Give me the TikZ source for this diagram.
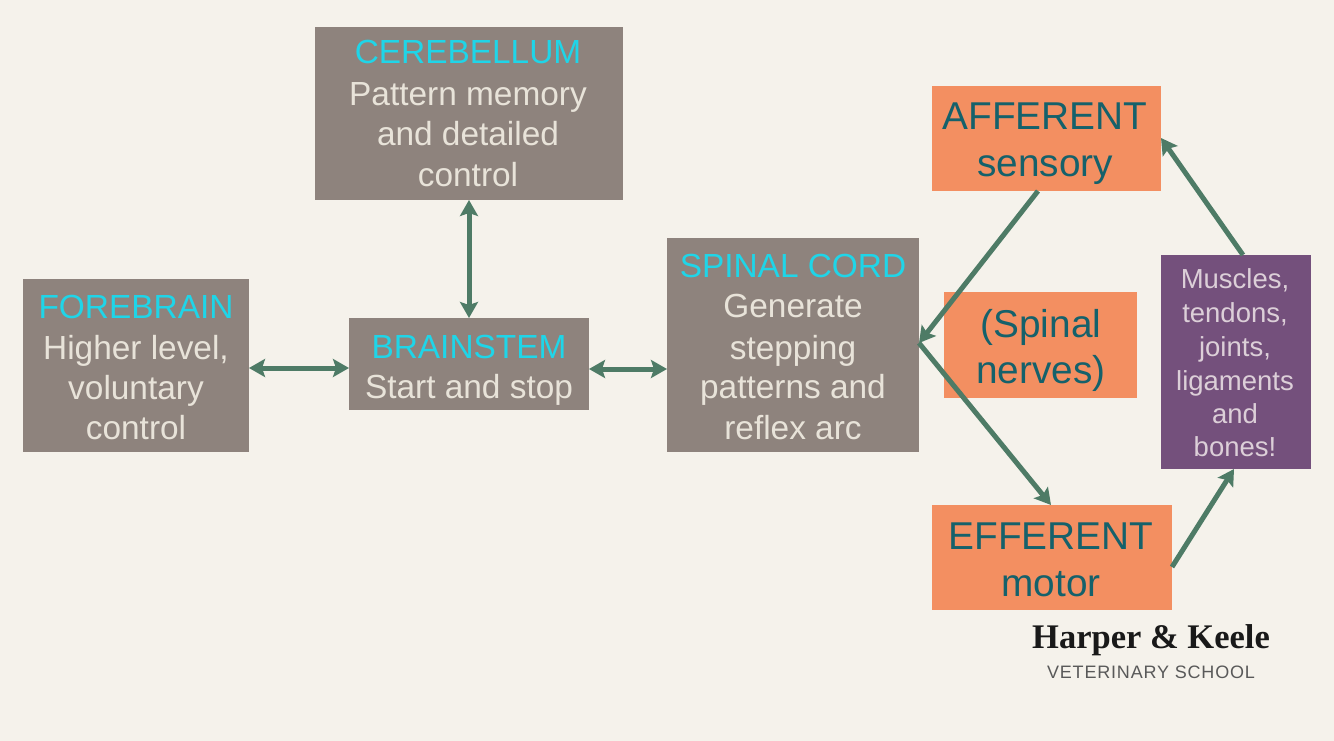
\documentclass[tikz,border=0pt]{standalone}
\usepackage{fontspec}
\setmainfont{Liberation Sans}
\newfontfamily\serifb{Liberation Serif}
\newfontfamily\vetfont[LetterSpace=4.5]{Liberation Sans}
\usetikzlibrary{arrows.meta}
\definecolor{bgc}{HTML}{F5F2EB}
\definecolor{taupe}{HTML}{8E837D}
\definecolor{orangec}{HTML}{F38F61}
\definecolor{purplec}{HTML}{74507C}
\definecolor{arrowc}{HTML}{4E7B66}
\definecolor{cyanc}{HTML}{1FD5E8}
\definecolor{lighttxt}{HTML}{E8E3D9}
\definecolor{mauvetxt}{HTML}{DCCFD8}
\definecolor{darktxt}{HTML}{15616B}
\tikzset{
 box/.style={inner sep=0pt,outer sep=0pt,anchor=north west},
 linelabel/.style={inner sep=0pt,anchor=base},
 conn/.style={draw=arrowc,line width=5pt,-{Stealth[length=16pt,width=18pt,inset=3pt]}},
 biconn/.style={draw=arrowc,line width=5pt,{Stealth[length=16pt,width=18pt,inset=3pt]}-{Stealth[length=16pt,width=18pt,inset=3pt]}},
}
\newcommand{\bx}[6]{\node[box,fill=#6,minimum width=#4pt,minimum height=#5pt] (#1) at (#2pt,-#3pt) {};}
\newcommand{\tl}[5]{\node[linelabel,text=#4,font=\fontsize{#5pt}{#5pt}\selectfont] at (#1pt,-#2pt) {#3};}
\begin{document}
\begin{tikzpicture}[x=1pt,y=1pt]
\useasboundingbox (0,0) rectangle (1334pt,-741pt);
\fill[bgc] (0,0) rectangle (1334pt,-741pt);
\bx{cb}{315}{27}{308}{173}{taupe}
\bx{fb}{23}{279}{226}{173}{taupe}
\bx{bs}{349}{318}{240}{92}{taupe}
\bx{sc}{667}{238}{252}{214}{taupe}
\bx{af}{932}{86}{229}{105}{orangec}
\bx{sn}{944}{292}{193}{106}{orangec}
\bx{ef}{932}{505}{240}{105}{orangec}
\bx{mu}{1161}{255}{150}{214}{purplec}
\tl{468}{64}{CEREBELLUM}{cyanc}{33.4}
\tl{468}{106}{Pattern memory}{lighttxt}{33.4}
\tl{468}{146}{and detailed}{lighttxt}{33.4}
\tl{468}{186}{control}{lighttxt}{33.4}
\tl{136}{318}{FOREBRAIN}{cyanc}{33.4}
\tl{136}{359}{Higher level,}{lighttxt}{33.4}
\tl{136}{399}{voluntary}{lighttxt}{33.4}
\tl{136}{439}{control}{lighttxt}{33.4}
\tl{469}{358}{BRAINSTEM}{cyanc}{33.4}
\tl{469}{398}{Start and stop}{lighttxt}{33.4}
\tl{793}{277}{SPINAL CORD}{cyanc}{33.4}
\tl{793}{317}{Generate}{lighttxt}{33.4}
\tl{793}{359}{stepping}{lighttxt}{33.4}
\tl{793}{398}{patterns and}{lighttxt}{33.4}
\tl{793}{439}{reflex arc}{lighttxt}{33.4}
\tl{1045}{130}{AFFERENT}{darktxt}{38.8}
\tl{1045}{177}{sensory}{darktxt}{38.8}
\tl{1041}{337}{(Spinal}{darktxt}{38.8}
\tl{1041}{383}{nerves)}{darktxt}{38.8}
\tl{1051}{549}{EFFERENT}{darktxt}{38.8}
\tl{1051}{596}{motor}{darktxt}{38.8}
\tl{1235}{288}{Muscles,}{mauvetxt}{27.5}
\tl{1235}{322}{tendons,}{mauvetxt}{27.5}
\tl{1235}{356}{joints,}{mauvetxt}{27.5}
\tl{1235}{390}{ligaments}{mauvetxt}{27.5}
\tl{1235}{423}{and}{mauvetxt}{27.5}
\tl{1235}{456}{bones!}{mauvetxt}{27.5}
\node[inner sep=0pt,anchor=base,font=\serifb\bfseries\fontsize{34.5pt}{34.5pt}\selectfont,text=black!90] (hk) at (1151pt,-648pt) {Harper \& Keele};
\node[inner sep=0pt,anchor=base,font=\vetfont\fontsize{18pt}{18pt}\selectfont,text=black!65] (vs) at (1151pt,-678pt) {VETERINARY SCHOOL};
\draw[biconn] (cb.south) -- (cb.south |- bs.north);
\draw[biconn] (fb.east |- 0,-368pt) -- (bs.west |- 0,-368pt);
\draw[biconn] (bs.east |- 0,-369pt) -- (sc.west |- 0,-369pt);
\coordinate (afout) at (1038pt,-191pt);
\coordinate (scr) at (919pt,-343pt);
\coordinate (efin) at (1051pt,-505pt);
\coordinate (efout) at (1172pt,-567pt);
\coordinate (muin) at (1234pt,-469pt);
\coordinate (muout) at (1243pt,-255pt);
\coordinate (afin) at (1161pt,-138pt);
\draw[conn] (afout) -- (scr);
\draw[conn] (scr) -- (efin);
\draw[conn] (efout) -- (muin);
\draw[conn] (muout) -- (afin);
\end{tikzpicture}
\end{document}
